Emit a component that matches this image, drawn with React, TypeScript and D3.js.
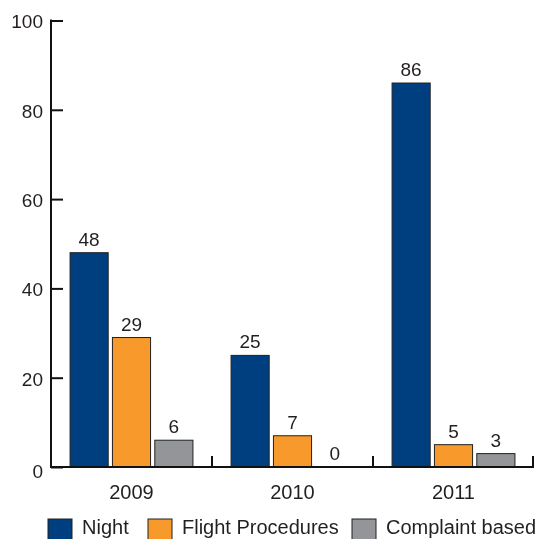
import React, { useEffect, useRef } from "react";
import * as d3 from "d3";

const years = ["2009", "2010", "2011"];
const seriesNames = ["Night", "Flight Procedures", "Complaint based"];
const night = [48, 25, 86];
const flightProcedures = [29, 7, 5];
const complaintBased = [6, 0, 3];
const yTicks = [0, 20, 40, 60, 80, 100];

const colors = ["#003f7f", "#f7992b", "#939598"];

const App: React.FC = () => {
  const svgRef = useRef(null);

  useEffect(() => {
    const w = 535;
    const h = 539;
    const left = 51;
    const right = 534;
    const top = 20.5;
    const bottom = 467;

    const svg = d3
      .select(svgRef.current)
      .attr("width", w)
      .attr("height", h)
      .style("font-family", "'Liberation Sans', Arial, Helvetica, sans-serif");

    const xScale = d3.scaleBand().domain(years).range([left, right]).padding(0);
    const inner = d3
      .scaleBand()
      .domain(seriesNames)
      .range([0, xScale.bandwidth()])
      .paddingOuter(0.45)
      .paddingInner(0.1);
    const yScale = d3.scaleLinear().domain([0, 100]).range([bottom, top]);

    const rows = years.map((year, i) => ({
      year,
      values: [night[i], flightProcedures[i], complaintBased[i]],
    }));

    // bars
    const groups = svg
      .selectAll("g.year")
      .data(rows)
      .enter()
      .append("g")
      .attr("class", "year")
      .attr("transform", (d) => `translate(${xScale(d.year)},0)`);

    groups
      .selectAll("rect")
      .data((d) => d.values.map((v, k) => ({ v, k })))
      .enter()
      .filter((d) => d.v > 0)
      .append("rect")
      .attr("x", (d) => inner(seriesNames[d.k]) as number)
      .attr("y", (d) => yScale(d.v))
      .attr("width", inner.bandwidth())
      .attr("height", (d) => bottom - yScale(d.v))
      .style("fill", (d) => colors[d.k])
      .style("stroke", "#222")
      .style("stroke-width", 1);

    groups
      .selectAll("text.val")
      .data((d) => d.values.map((v, k) => ({ v, k })))
      .enter()
      .append("text")
      .attr("class", "val")
      .attr("x", (d) => (inner(seriesNames[d.k]) as number) + inner.bandwidth() / 2)
      .attr("y", (d) => yScale(d.v) - 7)
      .attr("text-anchor", "middle")
      .style("font-size", "19px")
      .style("fill", "#231f20")
      .text((d) => d.v);

    // y axis
    const yAxis = d3
      .axisRight(yScale)
      .tickValues(yTicks)
      .tickSize(12)
      .tickFormat(() => "");
    const yg = svg.append("g").attr("transform", `translate(${left},0)`).call(yAxis);
    yg.select(".domain").remove();
    yg.selectAll("line").style("stroke", "#111").style("stroke-width", 2);
    svg
      .append("line")
      .attr("x1", left)
      .attr("x2", left)
      .attr("y1", top - 1)
      .attr("y2", bottom + 1)
      .style("stroke", "#111")
      .style("stroke-width", 2);

    svg
      .selectAll("text.ytick")
      .data(yTicks)
      .enter()
      .append("text")
      .attr("class", "ytick")
      .attr("x", 43)
      .attr("y", (d) => yScale(d) + (d === 0 ? 4 : 1))
      .attr("dy", "0.36em")
      .attr("text-anchor", "end")
      .style("font-size", "19px")
      .style("fill", "#231f20")
      .text((d) => d);

    // x axis
    svg
      .append("line")
      .attr("x1", left)
      .attr("x2", right)
      .attr("y1", bottom)
      .attr("y2", bottom)
      .style("stroke", "#111")
      .style("stroke-width", 2);

    svg
      .selectAll("line.xtick")
      .data(years.slice(1).map((y) => xScale(y) as number).concat([right - 1]))
      .enter()
      .append("line")
      .attr("class", "xtick")
      .attr("x1", (d) => d)
      .attr("x2", (d) => d)
      .attr("y1", bottom)
      .attr("y2", bottom - 11)
      .style("stroke", "#111")
      .style("stroke-width", 2);

    svg
      .selectAll("text.xlab")
      .data(years)
      .enter()
      .append("text")
      .attr("class", "xlab")
      .attr("x", (d) => (xScale(d) as number) + xScale.bandwidth() / 2)
      .attr("y", 499)
      .attr("text-anchor", "middle")
      .style("font-size", "20px")
      .style("fill", "#231f20")
      .text((d) => d);

    // legend
    const legendX = [48, 148, 352];
    const legend = svg
      .selectAll("g.legend")
      .data(seriesNames)
      .enter()
      .append("g")
      .attr("class", "legend")
      .attr("transform", (d, i) => `translate(${legendX[i]},519)`);
    legend
      .append("rect")
      .attr("width", 24)
      .attr("height", 24)
      .style("fill", (d, i) => colors[i])
      .style("stroke", "#222")
      .style("stroke-width", 1);
    legend
      .append("text")
      .attr("x", 34)
      .attr("y", 15)
      .style("font-size", "20px")
      .style("fill", "#231f20")
      .text((d) => d);

    return () => {
      svg.selectAll("*").remove();
    };
  }, []);

  return (
    <div style={{ position: "fixed", left: 0, top: 0 }}>
      <svg ref={svgRef} style={{ display: "block" }} />
    </div>
  );
};

export default App;
